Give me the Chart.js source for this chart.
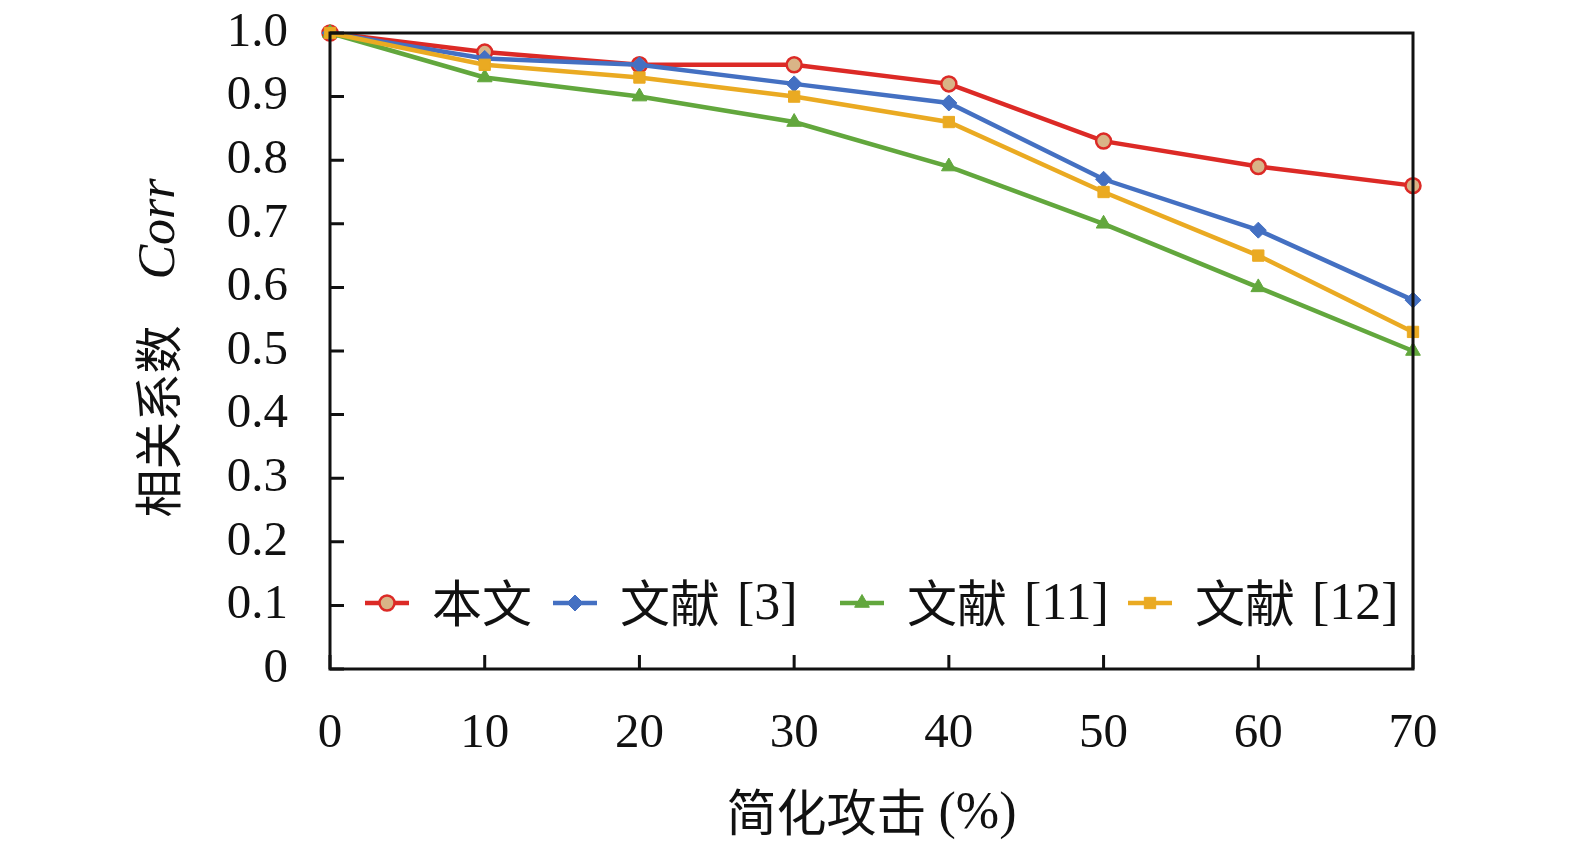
<!DOCTYPE html>
<html>
<head>
<meta charset="utf-8">
<script src="https://cdn.jsdelivr.net/npm/chart.js@4.4.0/dist/chart.umd.min.js"></script>
<style>
  html, body { margin: 0; padding: 0; background: #fff; overflow: hidden; }
  #wrap { width: 1575px; height: 852px; }
  canvas { display: block; }
</style>
</head>
<body>
<div id="wrap"><canvas id="chart" width="1575" height="852"></canvas></div>
<script>
const categories = ['0', '10', '20', '30', '40', '50', '60', '70'];
const seriesNames = ['本文', '文献 [3]', '文献 [11]', '文献 [12]'];
const ours = [1.0, 0.97, 0.95, 0.95, 0.92, 0.83, 0.79, 0.76];
const ref3 = [1.0, 0.96, 0.95, 0.92, 0.89, 0.77, 0.69, 0.58];
const ref11 = [1.0, 0.93, 0.90, 0.86, 0.79, 0.70, 0.60, 0.50];
const ref12 = [1.0, 0.95, 0.93, 0.90, 0.86, 0.75, 0.65, 0.53];
const yTicks = [0, 0.1, 0.2, 0.3, 0.4, 0.5, 0.6, 0.7, 0.8, 0.9, 1.0];

const serif = '"Liberation Serif", "Times New Roman", serif';
const cjk = '"Noto Sans CJK SC", sans-serif';

const RED = '#dc2a26';
const BLUE = '#4470c2';
const GREEN = '#62a73d';
const ORANGE = '#eaaa22';
const TAN = '#d9b487';

// later series sit on top, like in the original figure
function ds(label, data, color, style, radius, order, fill) {
    return {
        label: label,
        data: data,
        order: order,
        borderColor: color,
        backgroundColor: fill || color,
        pointBorderColor: color,
        pointBackgroundColor: fill || color,
        borderWidth: 4.5,
        pointStyle: style,
        pointRadius: radius,
        pointBorderWidth: fill ? 2.5 : 1,
        tension: 0,
        clip: false,
    };
}

// draw text pieces with different fonts one after another, centred on x
function drawRuns(ctx, runs, x, y) {
    let w = 0;
    runs.forEach(r => { ctx.font = r.font; w += ctx.measureText(r.text).width + (r.gap || 0); });
    let cx = x - w / 2;
    runs.forEach(r => {
        cx += r.gap || 0;
        ctx.font = r.font;
        ctx.fillText(r.text, cx, y + (r.dy || 0));
        cx += ctx.measureText(r.text).width;
    });
}

const framePlugin = {
    id: 'frame',
    afterDatasetsDraw(chart) {
        const ctx = chart.ctx;
        const a = chart.chartArea;
        const xs = chart.scales.x;
        const ys = chart.scales.y;
        ctx.save();
        ctx.strokeStyle = '#111';
        ctx.lineWidth = 3;
        ctx.beginPath();
        ctx.rect(a.left, a.top, a.right - a.left, a.bottom - a.top);
        ctx.stroke();
        // inward ticks
        ctx.beginPath();
        yTicks.forEach(v => {
            const py = ys.getPixelForValue(v);
            ctx.moveTo(a.left, py);
            ctx.lineTo(a.left + 14, py);
        });
        categories.forEach((c, i) => {
            const px = xs.getPixelForValue(i);
            ctx.moveTo(px, a.bottom);
            ctx.lineTo(px, a.bottom - 14);
        });
        ctx.stroke();
        ctx.restore();
    },
    afterDraw(chart) {
        const ctx = chart.ctx;
        const a = chart.chartArea;
        ctx.save();
        ctx.fillStyle = '#111';
        ctx.textBaseline = 'middle';
        ctx.textAlign = 'left';
        // x title
        drawRuns(ctx, [
            { text: '简化攻击', font: '50px ' + cjk },
            { text: '(%)', font: '52px ' + serif, gap: 12, dy: 2 },
        ], (a.left + a.right) / 2, 812);
        // y title
        ctx.translate(158, 348);
        ctx.rotate(-Math.PI / 2);
        drawRuns(ctx, [
            { text: '相关系数', font: '48px ' + cjk },
            { text: 'Corr', font: 'italic 52px ' + serif, gap: 46, dy: 2 },
        ], 0, 0);
        ctx.restore();

        // legend inside the plot
        const items = [
            { x: 365, tx: 432, color: RED, style: 'circle', r: 7.5, fill: TAN },
            { x: 553, tx: 620, color: BLUE, style: 'rectRot', r: 8 },
            { x: 840, tx: 907, color: GREEN, style: 'triangle', r: 8.5 },
            { x: 1128, tx: 1195, color: ORANGE, style: 'rect', r: 8 },
        ];
        const ly = 603;
        items.forEach((it, i) => {
            ctx.save();
            ctx.strokeStyle = it.color;
            ctx.lineWidth = 4.5;
            ctx.beginPath();
            ctx.moveTo(it.x, ly);
            ctx.lineTo(it.x + 44, ly);
            ctx.stroke();
            ctx.fillStyle = it.fill || it.color;
            ctx.lineWidth = it.fill ? 2.5 : 1;
            Chart.helpers.drawPoint(ctx, { pointStyle: it.style, radius: it.r, borderWidth: ctx.lineWidth }, it.x + 22, ly);
            ctx.restore();
            const name = seriesNames[i];
            const cut = name.indexOf(' ');
            ctx.save();
            ctx.fillStyle = '#111';
            ctx.textBaseline = 'middle';
            ctx.textAlign = 'left';
            ctx.font = '50px ' + cjk;
            const head = cut < 0 ? name : name.slice(0, cut);
            ctx.fillText(head, it.tx, ly);
            if (cut >= 0) {
                const w = ctx.measureText(head).width;
                ctx.font = '52px ' + serif;
                ctx.fillText(name.slice(cut), it.tx + w + 4, ly + 2);
            }
            ctx.restore();
        });
    }
};

new Chart(document.getElementById('chart').getContext('2d'), {
    type: 'line',
    data: {
        labels: categories,
        datasets: [
            ds(seriesNames[0], ours, RED, 'circle', 7.5, 3, TAN),
            ds(seriesNames[1], ref3, BLUE, 'rectRot', 8, 2),
            ds(seriesNames[2], ref11, GREEN, 'triangle', 8.5, 1),
            ds(seriesNames[3], ref12, ORANGE, 'rect', 8, 0),
        ]
    },
    options: {
        responsive: false,
        animation: false,
        devicePixelRatio: 1,
        layout: { padding: { top: 33, right: 162, bottom: 0, left: 0 } },
        plugins: {
            legend: { display: false },
            tooltip: { enabled: false },
        },
        scales: {
            x: {
                type: 'category',
                offset: false,
                grid: { display: false, drawTicks: false },
                border: { display: false },
                ticks: {
                    color: '#111',
                    padding: 36,
                    maxRotation: 0,
                    autoSkip: false,
                    font: { family: serif, size: 49 },
                },
                afterFit(scale) { scale.height = 183; },
            },
            y: {
                min: 0,
                max: 1,
                grid: { display: false, drawTicks: false },
                border: { display: false },
                ticks: {
                    stepSize: 0.1,
                    autoSkip: false,
                    color: '#111',
                    padding: 42,
                    font: { family: serif, size: 49 },
                    callback: v => (v === 0 ? '0' : v.toFixed(1)),
                },
                afterFit(scale) {
                    scale.width = 330;
                    scale.paddingTop = 0;
                    scale.paddingBottom = 0;
                },
            }
        }
    },
    plugins: [framePlugin]
});
</script>
</body>
</html>
